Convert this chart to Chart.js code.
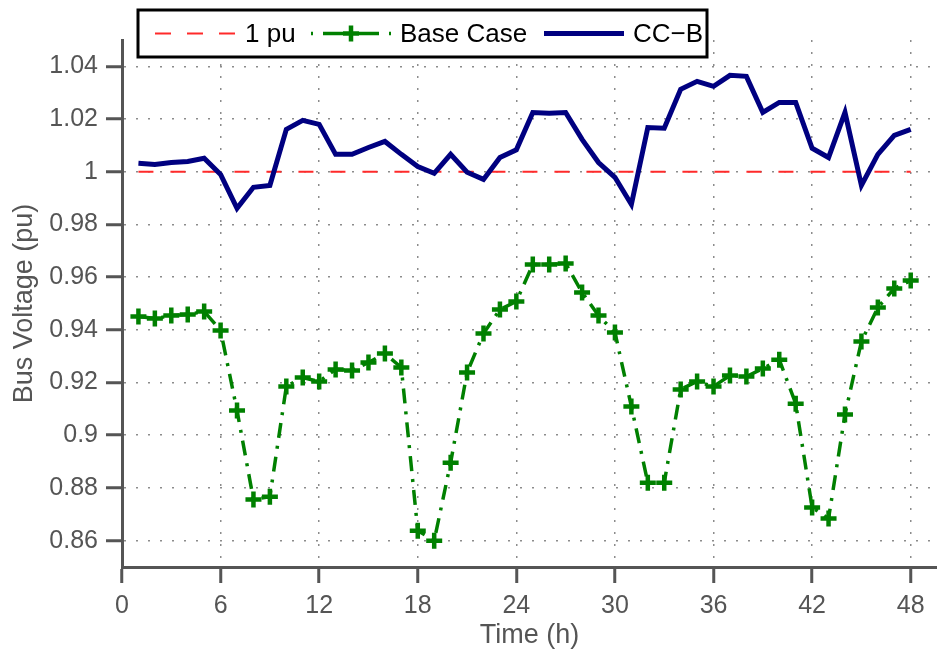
<!DOCTYPE html>
<html>
<head>
<meta charset="utf-8">
<script src="https://cdn.jsdelivr.net/npm/chart.js@4.4.0/dist/chart.umd.min.js"></script>
<style>
  html, body { margin: 0; padding: 0; background: #fff; }
</style>
</head>
<body>
<canvas id="grafico" width="937" height="655"></canvas>
<script>
// Datos del gráfico
const horas = [1, 2, 3, 4, 5, 6, 7, 8, 9, 10, 11, 12, 13, 14, 15, 16, 17, 18, 19, 20, 21, 22, 23, 24,
               25, 26, 27, 28, 29, 30, 31, 32, 33, 34, 35, 36, 37, 38, 39, 40, 41, 42, 43, 44, 45, 46, 47, 48];

const casoBase = [0.9451, 0.9443, 0.9454, 0.9458, 0.9470, 0.9398, 0.9094, 0.8756, 0.8767, 0.9185, 0.9219, 0.9204,
                  0.9250, 0.9246, 0.9276, 0.9310, 0.9257, 0.8638, 0.8600, 0.8896, 0.9238, 0.9386, 0.9477, 0.9508,
                  0.9648, 0.9648, 0.9652, 0.9542, 0.9454, 0.9390, 0.9109, 0.8820, 0.8820, 0.9174, 0.9204, 0.9185,
                  0.9227, 0.9223, 0.9253, 0.9287, 0.9120, 0.8726, 0.8684, 0.9079, 0.9356, 0.9485, 0.9557, 0.9587];

const ccB = [1.0032, 1.0028, 1.0035, 1.0039, 1.0051, 0.9990, 0.9861, 0.9941, 0.9948, 1.0161, 1.0195, 1.0180,
             1.0066, 1.0066, 1.0092, 1.0115, 1.0066, 1.0020, 0.9994, 1.0066, 0.9998, 0.9971, 1.0054, 1.0083,
             1.0225, 1.0222, 1.0225, 1.0123, 1.0035, 0.9979, 0.9876, 1.0168, 1.0165, 1.0313, 1.0343, 1.0324,
             1.0366, 1.0362, 1.0225, 1.0263, 1.0263, 1.0089, 1.0054, 1.0225, 0.9948, 1.0066, 1.0138, 1.0161];

// línea de referencia 1 pu
const puHoras = [1, 48];
const puValor = [1, 1];

// marcas de los ejes
const xTicks = [0, 6, 12, 18, 24, 30, 36, 42, 48];
const yTicks = [0.86, 0.88, 0.9, 0.92, 0.94, 0.96, 0.98, 1, 1.02, 1.04];

const fuente = "'Liberation Sans', Arial, Helvetica, sans-serif";
const grisEje = '#555555';
const rojo = '#ff2a2a';
const verde = '#008000';
const azul = '#000080';
const guionVerde = [15, 8, 3, 8];

const pares = (xs, ys) => xs.map((x, i) => ({ x: x, y: ys[i] }));

// Leyenda dibujada a mano (caja con borde negro)
const leyendaPlugin = {
  id: 'leyenda',
  afterDraw(chart) {
    const ctx = chart.ctx;
    const x0 = 138, y0 = 10, w = 569, h = 47;
    const cy = y0 + h / 2;
    ctx.save();
    ctx.fillStyle = '#fff';
    ctx.fillRect(x0, y0, w, h);
    ctx.lineWidth = 3;
    ctx.strokeStyle = '#000';
    ctx.strokeRect(x0, y0, w, h);

    // 1 pu
    ctx.lineWidth = 2;
    ctx.strokeStyle = rojo;
    ctx.setLineDash([16, 16]);
    ctx.beginPath(); ctx.moveTo(155, cy); ctx.lineTo(235, cy); ctx.stroke();
    ctx.setLineDash([]);

    // Base Case
    ctx.lineWidth = 3.5;
    ctx.strokeStyle = verde;
    [[311, 313], [323, 343], [359, 379], [389, 391]].forEach(s => {
      ctx.beginPath(); ctx.moveTo(s[0], cy); ctx.lineTo(s[1], cy); ctx.stroke();
    });
    ctx.lineWidth = 4.5;
    ctx.beginPath();
    ctx.moveTo(343, cy); ctx.lineTo(359, cy);
    ctx.moveTo(351, cy - 8); ctx.lineTo(351, cy + 8);
    ctx.stroke();

    // CC-B
    ctx.lineWidth = 5;
    ctx.strokeStyle = azul;
    ctx.beginPath(); ctx.moveTo(544, cy); ctx.lineTo(624, cy); ctx.stroke();

    ctx.fillStyle = '#000';
    ctx.font = '26px ' + fuente;
    ctx.textBaseline = 'middle';
    ctx.textAlign = 'left';
    ctx.fillText('1 pu', 245, cy + 1);
    ctx.fillText('Base Case', 400, cy + 1);
    ctx.fillText('CC\u2212B', 633, cy + 1);
    ctx.restore();
  }
};

const sinRelleno = s => { s.paddingLeft = 0; s.paddingRight = 0; s.paddingTop = 0; s.paddingBottom = 0; };

const config = {
  type: 'line',
  data: {
    datasets: [
      {
        label: '1 pu',
        data: pares(puHoras, puValor),
        borderColor: rojo,
        borderWidth: 2,
        borderDash: [15, 17],
        pointRadius: 0,
        order: 3
      },
      {
        label: 'Base Case',
        data: pares(horas, casoBase),
        borderColor: verde,
        borderWidth: 3.5,
        borderDash: guionVerde,
        pointStyle: 'cross',
        pointRadius: 8,
        pointBorderWidth: 4.5,
        pointBorderColor: verde,
        pointBackgroundColor: verde,
        order: 2
      },
      {
        label: 'CC-B',
        data: pares(horas, ccB),
        borderColor: azul,
        borderWidth: 5,
        pointRadius: 0,
        order: 1
      }
    ]
  },
  options: {
    responsive: false,
    animation: false,
    devicePixelRatio: 1,
    layout: { autoPadding: false, padding: { top: 40, right: 0, bottom: 0, left: 0 } },
    plugins: { legend: { display: false }, tooltip: { enabled: false } },
    elements: { line: { tension: 0, fill: false } },
    scales: {
      x: {
        type: 'linear',
        min: 0,
        max: 49.6,
        afterBuildTicks: s => { s.ticks = xTicks.map(v => ({ value: v })); },
        afterFit: s => { s.height = 88; sinRelleno(s); },
        ticks: {
          color: grisEje,
          font: { family: fuente, size: 25 },
          padding: 8,
          maxRotation: 0,
          autoSkip: false,
          callback: v => String(v)
        },
        grid: {
          color: '#8c8c8c',
          lineWidth: 1.5,
          tickLength: 16,
          tickWidth: 3,
          tickColor: grisEje,
          tickBorderDash: []
        },
        border: { color: grisEje, width: 3, dash: [2, 10] },
        title: {
          display: true,
          text: 'Time (h)',
          color: grisEje,
          font: { family: fuente, size: 27 },
          padding: { top: 0, bottom: 3 }
        }
      },
      y: {
        min: 0.85,
        max: 1.05,
        afterBuildTicks: s => { s.ticks = yTicks.map(v => ({ value: v })); },
        afterFit: s => { s.width = 122; sinRelleno(s); },
        ticks: {
          color: grisEje,
          font: { family: fuente, size: 25 },
          padding: 8,
          callback: v => String(+v.toFixed(2))
        },
        grid: {
          color: '#8c8c8c',
          lineWidth: 1.5,
          tickLength: 16,
          tickWidth: 3,
          tickColor: grisEje,
          tickBorderDash: []
        },
        border: { color: grisEje, width: 3, dash: [2, 10] },
        title: {
          display: true,
          text: 'Bus Voltage (pu)',
          color: grisEje,
          font: { family: fuente, size: 27 },
          padding: { top: 8, bottom: 0 }
        }
      }
    }
  },
  plugins: [leyendaPlugin]
};

const ctx = document.getElementById('grafico').getContext('2d');
new Chart(ctx, config);
</script>
</body>
</html>
